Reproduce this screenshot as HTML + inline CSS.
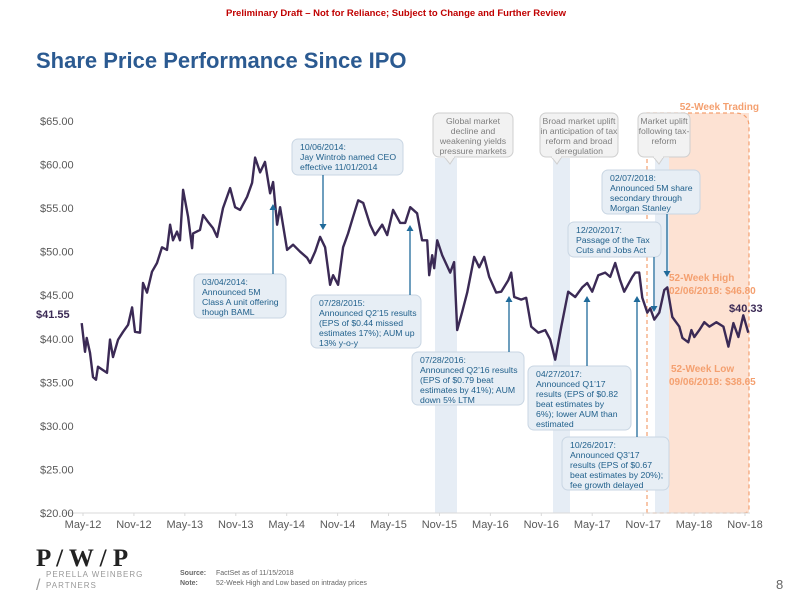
<!DOCTYPE html>
<html><head><meta charset="utf-8"><style>
body{margin:0;background:#fff;font-family:"Liberation Sans",Arial,sans-serif;}
#wrap{position:relative;width:792px;height:612px;overflow:hidden;}
svg text{font-family:"Liberation Sans",Arial,sans-serif;}
</style></head><body>
<div id="wrap">
<svg id="chart" width="792" height="612" viewBox="0 0 792 612">
<text x="396" y="16" text-anchor="middle" font-size="9.5" font-weight="bold" fill="#c00000">Preliminary Draft – Not for Reliance; Subject to Change and Further Review</text>
<text x="36" y="68" font-size="22" font-weight="bold" fill="#2b5a91">Share Price Performance Since IPO</text>
<g id="bg"></g>
<g id="axes"></g>
<g id="series"></g>
<g id="ann"></g>
<g>
<text x="36" y="566" font-size="25" style="font-family:'Liberation Serif',serif" font-weight="bold" fill="#222">P / W / P</text>
<text x="46" y="577" font-size="8" fill="#999" letter-spacing="1">PERELLA WEINBERG</text>
<text x="46" y="588" font-size="8" fill="#999" letter-spacing="1">PARTNERS</text>
<text x="36" y="590" font-size="16" fill="#999">/</text>
<text x="180" y="575" font-size="7" font-weight="bold" fill="#666">Source:</text>
<text x="216" y="575" font-size="7" fill="#666">FactSet as of 11/15/2018</text>
<text x="180" y="585" font-size="7" font-weight="bold" fill="#666">Note:</text>
<text x="216" y="585" font-size="7" fill="#666">52-Week High and Low based on intraday prices</text>
<text x="776" y="589" font-size="13" fill="#666">8</text>
</g>
</svg>
</div>
<script>
const monthsSinceMay12=[-0.15,0.24,0.44,0.83,1.18,1.53,1.77,2.36,2.83,3.18,3.54,4.13,4.72,5.31,5.78,6.13,6.72,7.07,7.54,8.13,8.72,9.31,9.9,10.26,10.61,11.08,11.43,11.79,12.38,12.85,12.97,13.79,14.15,14.74,15.32,15.8,16.5,17.33,17.92,18.51,19.33,19.92,20.28,20.87,21.45,22.04,22.4,22.87,23.22,24.05,24.76,25.58,26.41,26.76,27.35,27.94,28.53,29.12,29.47,30.06,30.65,31.24,31.83,32.42,33.01,33.83,34.42,35.25,35.84,36.54,37.37,37.96,38.55,39.37,39.96,40.55,40.79,41.14,41.38,41.73,42.32,43.26,43.73,44.09,44.68,45.27,46.09,46.68,47.27,47.86,48.69,49.28,50.1,50.45,50.81,51.63,52.22,52.81,53.64,54.46,55.05,55.64,56.35,57.17,57.99,58.82,59.41,60.0,60.71,61.53,62.12,62.71,63.3,63.77,64.72,65.07,65.54,65.9,66.49,66.84,67.31,67.9,68.49,68.84,69.43,70.26,70.62,71.32,71.68,72.03,72.62,73.21,73.8,74.62,75.45,76.04,76.63,77.22,77.8,78.39];
const prices=[41.8,38.5,40.1,38.4,35.6,35.3,36.8,36.4,36.1,39.9,37.9,39.9,40.8,41.6,43.6,40.8,40.7,46.4,45.3,47.7,48.7,50.5,50.2,53.1,51.3,52.3,51.3,57.1,54.0,50.4,52.1,52.5,54.2,53.4,52.7,51.7,55.0,57.3,55.1,54.8,56.3,57.9,60.8,59.1,60.3,56.7,58.0,53.1,55.1,50.2,50.8,50.0,49.3,48.7,50.0,51.7,50.5,46.2,47.3,46.2,50.5,52.1,54.0,55.9,55.6,53.1,51.9,53.1,51.9,54.8,53.3,53.3,55.1,54.4,51.3,51.3,47.3,49.6,48.1,51.3,49.6,47.6,48.8,41.0,43.1,45.3,49.4,48.2,49.4,47.1,45.3,45.4,46.7,47.6,44.8,44.5,44.7,41.4,40.7,41.0,39.9,37.6,41.4,45.4,44.8,45.9,46.4,45.4,47.3,47.6,47.1,48.7,46.7,45.4,47.1,47.6,47.6,44.7,43.0,43.5,42.2,43.0,45.6,45.9,42.5,41.4,40.1,39.6,41.0,40.2,41.0,41.9,41.4,41.9,41.4,39.1,41.8,40.2,42.7,40.7];
const yTickValues=[20,25,30,35,40,45,50,55,60,65];
const xTickLabels=["May-12","Nov-12","May-13","Nov-13","May-14","Nov-14","May-15","Nov-15","May-16","Nov-16","May-17","Nov-17","May-18","Nov-18"];
const NS="http://www.w3.org/2000/svg";
function xs(m){return 83+m*(662/78);}
function ys(v){return 513-(v-20)*(392/45);}
function mk(tag,attrs,parent,txt){const e=document.createElementNS(NS,tag);for(const k in attrs)e.setAttribute(k,attrs[k]);if(txt!==undefined)e.textContent=txt;parent.appendChild(e);return e;}
const bg=document.getElementById('bg'),axes=document.getElementById('axes'),series=document.getElementById('series'),ann=document.getElementById('ann');
let r=mk('rect',{x:669,y:113,width:80,height:400,fill:'#fde2d3'},bg);


[[435,457,158],[553,570,158],[655,669,158]].forEach((b,i)=>{const e=mk('rect',{x:b[0],y:b[2],width:b[1]-b[0],height:513-b[2],fill:'#e6edf5'},bg);

});
let d=mk('path',{d:'M647,513 L647,113 L735,113 Q749,113 749,127 L749,508 Q749,513 744,513 Z',fill:'none',stroke:'#f4a070','stroke-width':1.2,'stroke-dasharray':'4,3'},bg);


let ax=mk('line',{x1:62,y1:513,x2:750,y2:513,stroke:'#d9d9d9','stroke-width':1},axes);


yTickValues.forEach(v=>{const t=mk('text',{x:40,y:ys(v)+4,'font-size':11,fill:'#595959'},axes,'$'+v.toFixed(2));

});
xTickLabels.forEach((l,i)=>{const x=xs(i*6);
const tk=mk('line',{x1:x,y1:513,x2:x,y2:516,stroke:'#d9d9d9'},axes);


const t=mk('text',{x:x,y:528,'font-size':11,fill:'#595959','text-anchor':'middle'},axes,l);

});
let pd=monthsSinceMay12.map((m,i)=>(i?'L':'M')+xs(m).toFixed(1)+','+ys(prices[i]).toFixed(1)).join(' ');
let ln=mk('path',{d:pd,fill:'none',stroke:'#3b2a55','stroke-width':2.4,'stroke-linejoin':'round'},series);


function box(x,y,w,h,lines,fill,stroke,color,anchor,name,tail){
 const g=mk('g',{},ann);
 
 
 mk('rect',{x:x,y:y,width:w,height:h,rx:6,fill:fill,stroke:stroke,'stroke-width':1},g);
 if(tail){mk('path',{d:`M${tail-6},${y+h-0.5} L${tail},${y+h+7} L${tail+5},${y+h-0.5}`,fill:fill,stroke:stroke},g);
  mk('line',{x1:tail-5,y1:y+h,x2:tail+4,y2:y+h,stroke:fill,'stroke-width':2},g);}
 lines.forEach((s,i)=>{const tx=anchor==='middle'?x+w/2:x+8;mk('text',{x:tx,y:y+11+i*10,'font-size':8.7,fill:color,'text-anchor':anchor},g,s);});
}
box(433,113,80,44,['Global market','decline and','weakening yields','pressure markets'],'#f2f2f2','#cfcfcf','#7f7f7f','middle','callout-global-market',450);
box(540,113,78,44,['Broad market uplift','in anticipation of tax','reform and broad','deregulation'],'#f2f2f2','#cfcfcf','#7f7f7f','middle','callout-tax-anticipation',557);
box(638,113,52,44,['Market uplift','following tax-','reform'],'#f2f2f2','#cfcfcf','#7f7f7f','middle','callout-tax-reform',659);
function arrow(x,y1,y2,name){const g=mk('g',{},ann);
 
 
 mk('line',{x1:x,y1:y1,x2:x,y2:y2+(y2>y1?-5:5),stroke:'#1f6a9a','stroke-width':1.3},g);
 const dir=y2>y1?-1:1;mk('path',{d:`M${x-3.5},${y2+dir*6} L${x},${y2} L${x+3.5},${y2+dir*6} Z`,fill:'#1f6a9a'},g);}
const B='#e7eef5',BS='#c9d6e3',BT='#1f5f8b';
box(292,139,111,36,['10/06/2014:','Jay Wintrob named CEO','effective 11/01/2014'],B,BS,BT,'start','callout-ceo');
arrow(323,175,230,'arrow-ceo');
box(194,274,92,44,['03/04/2014:','Announced 5M','Class A unit offering','though BAML'],B,BS,BT,'start','callout-baml-offering');
arrow(273,274,204,'arrow-baml-offering');
box(311,295,110,53,['07/28/2015:','Announced Q2\u201915 results','(EPS of $0.44 missed','estimates 17%); AUM up','13% y-o-y'],B,BS,BT,'start','callout-q2-2015');
arrow(410,295,225,'arrow-q2-2015');
box(412,352,112,53,['07/28/2016:','Announced Q2\u201916 results','(EPS of $0.79 beat','estimates by 41%); AUM','down 5% LTM'],B,BS,BT,'start','callout-q2-2016');
arrow(509,352,296,'arrow-q2-2016');
box(528,366,103,64,['04/27/2017:','Announced Q1\u201917','results (EPS of $0.82','beat estimates by','6%); lower AUM than','estimated'],B,BS,BT,'start','callout-q1-2017');
arrow(587,366,296,'arrow-q1-2017');
box(562,437,107,53,['10/26/2017:','Announced Q3\u201917','results (EPS of $0.67','beat estimates by 20%);','fee growth delayed'],B,BS,BT,'start','callout-q3-2017');
arrow(637,437,296,'arrow-q3-2017');
box(568,222,93,35,['12/20/2017:','Passage of the Tax','Cuts and Jobs Act'],B,BS,BT,'start','callout-tax-act');
arrow(654,257,312,'arrow-tax-act');
box(602,170,98,44,['02/07/2018:','Announced 5M share','secondary through','Morgan Stanley'],B,BS,BT,'start','callout-secondary');
arrow(667,214,277,'arrow-secondary');
function lbl(x,y,s,size,col,name,anchor){const t=mk('text',{x:x,y:y,'font-size':size,'font-weight':'bold',fill:col,'text-anchor':anchor||'start'},ann,s);

}
lbl(759,110,'52-Week Trading',10,'#f4a070','52-week-trading-label','end');
lbl(669,281,'52-Week High',10,'#f4a070','52-week-high-label');
lbl(669,294,'02/06/2018: $46.80',10,'#f4a070','52-week-high-value');
lbl(671,372,'52-Week Low',10,'#f4a070','52-week-low-label');
lbl(669,385,'09/06/2018: $38.65',10,'#f4a070','52-week-low-value');
lbl(729,312,'$40.33',11,'#3b2a55','current-price-label');
lbl(36,318,'$41.55',11,'#3b2a55','ipo-price-label');
</script>
</body></html>
